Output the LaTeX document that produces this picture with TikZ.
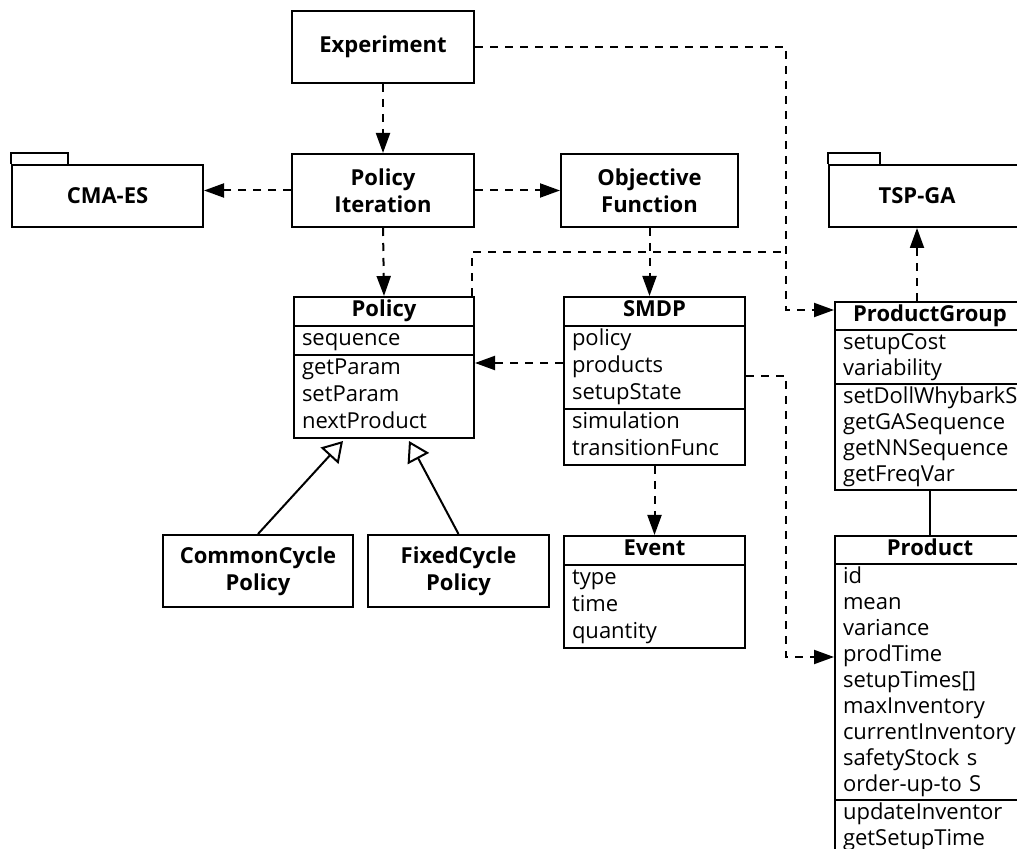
\documentclass[tikz,border=0pt]{standalone}
\usepackage{fontspec}
\setmainfont{Open Sans}
\usetikzlibrary{positioning, shapes.multipart, arrows.meta, calc}

\newcommand{\classname}[1]{\makebox[\hsize][c]{\textbf{\strut #1}}}

\tikzset{
  box/.style={draw, line width=1pt, font=\bfseries\fontsize{11}{13.5}\selectfont, align=center, inner sep=0pt},
  umlclass/.style={draw, line width=1pt, rectangle split, rectangle split parts=3, anchor=north west,
    font=\fontsize{11}{13.5}\selectfont, align=left, inner xsep=4pt, inner ysep=0pt},
  tightrows/.style={font=\fontsize{11}{13}\selectfont},
  dep/.style={line width=1pt, dash pattern=on 4pt off 3.5pt, -{Triangle[length=10pt,width=7pt]}},
  depline/.style={line width=1pt, dash pattern=on 4pt off 3.5pt},
  inherit/.style={line width=1pt, -{Triangle[open,length=10pt,width=12pt]}}
}

\begin{document}
\begin{tikzpicture}[x=0.5pt, y=-0.5pt]
    \path[use as bounding box] (0,0) rectangle (1017,849);
    \clip (0,0) rectangle (1017,849);

    % top row
    \node[box, minimum width=91pt, minimum height=36pt] (exp) at (383,47) {Experiment};
    \node[box, minimum width=91pt, minimum height=36.5pt] (polit) at (383,190.5) {Policy\\Iteration};
    \node[box, minimum width=88.5pt, minimum height=36.5pt] (objfn) at (649.5,190.5) {Objective\\Function};

    % packages
    \node[box, minimum width=95.5pt, minimum height=31pt] (cmaes) at (107.5,196) {CMA-ES};
    \draw[line width=1pt] (cmaes.north west) -- ++(0,-11) -- ++(57,0) -- ++(0,11);
    \node[box, minimum width=98pt, minimum height=31pt] (tspga) at (927,196) {TSP-GA\hspace*{10pt}};
    \draw[line width=1pt] (tspga.north west) -- ++(0,-11) -- ++(52,0) -- ++(0,11);

    % classes
    \node[umlclass, text width=82pt] (policy) at (293,296)
      {\classname{Policy}
       \nodepart{two}\strut sequence
       \nodepart{three}\strut getParam\\ setParam\\ nextProduct\strut};
    \node[umlclass, text width=82.5pt] (smdp) at (563,296)
      {\classname{SMDP}
       \nodepart{two}\strut policy\\ products\\ setupState\strut
       \nodepart{three}\strut simulation\\ transitionFunc\strut};
    \node[umlclass, rectangle split parts=2, text width=82.5pt] (event) at (563,535)
      {\classname{Event}
       \nodepart{two}\strut type\\ time\\ quantity\strut};
    \node[umlclass, tightrows, text width=87pt] (pgroup) at (834,301)
      {\classname{ProductGroup}
       \nodepart{two}\strut setupCost\\ variability\strut
       \nodepart{three}\strut setDollWhybarkS\\ getGASequence\\ getNNSequence\\ getFreqVar\strut};
    \node[umlclass, tightrows, text width=87pt] (product) at (834,535)
      {\classname{Product}
       \nodepart{two}\strut id\\ mean\\ variance\\ prodTime\\ setupTimes[]\\ maxInventory\\
         currentInventory\\ safetyStock s\\ order-up-to S\strut
       \nodepart{three}\strut updateInventor\\ getSetupTime\strut};

    \node[box, minimum width=95pt, minimum height=36pt] (ccp) at (258,571) {CommonCycle\\Policy};
    \node[box, minimum width=90.5pt, minimum height=36pt] (fcp) at (458.5,571) {FixedCycle\\Policy};

    % dependencies
    \coordinate (trunk) at (786,252);
    \coordinate (gaport) at ($(pgroup.north west)+(83,0)$);
    \draw[dep] (exp) -- (polit);
    \draw[dep] (polit.west) -- (polit.west -| cmaes.east);
    \draw[dep] (polit.east) -- (objfn.west);
    \draw[dep] (polit.south) -- (policy.north);
    \draw[dep] (objfn.south) -- (objfn.south |- smdp.north);
    \draw[dep] ($(smdp.north west)+(0,67)$) -- ($(policy.north east)+(0,67)$);
    \draw[dep] (smdp.south) -- (event.north);
    \draw[dep] (gaport) -- (gaport |- tspga.south);
    \draw[dep] (exp.east) -| ($(pgroup.north west)+(-48,9)$) -- ($(pgroup.north west)+(0,9)$);
    \draw[depline] ($(policy.north east)+(-3,0)$) |- (trunk);
    \draw[dep] ($(smdp.north east)+(0,80)$) -| ($(product.north west)+(-48,122)$) -- ($(product.north west)+(0,122)$);
    \draw[line width=1pt] (pgroup.south) -- (product.north);

    % inheritance
    \draw[inherit] (ccp.north) -- ($(policy.south)+(-41,2)$);
    \draw[inherit] (fcp.north) -- ($(policy.south)+(25,2)$);
  \end{tikzpicture}
\end{document}
